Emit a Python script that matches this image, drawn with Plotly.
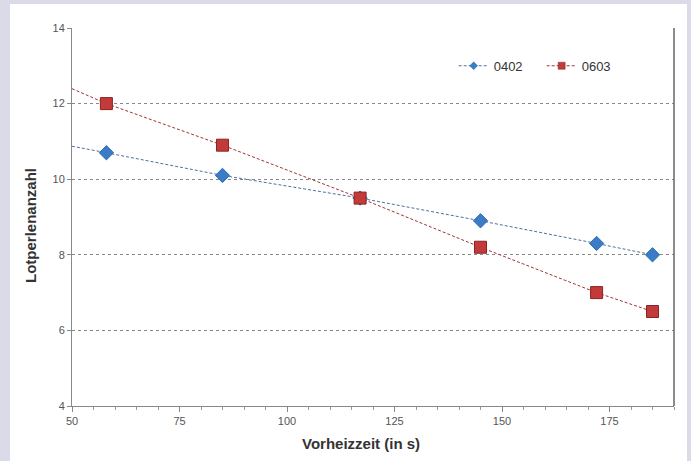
import numpy as np
import plotly.graph_objects as go

# Data
vorheizzeit = [58, 85, 117, 145, 172, 185]
serie_0402 = [10.7, 10.1, 9.5, 8.9, 8.3, 8.0]
serie_0603 = [12.0, 10.9, 9.5, 8.2, 7.0, 6.5]
series_names = ["0402", "0603"]
x_start = 50
x_ticks = [50, 75, 100, 125, 150, 175]
x_title = "Vorheizzeit (in s)"
y_title = "Lotperlenanzahl"

FONT = "Liberation Sans, Arial, sans-serif"
BLUE = "#3b7cc6"
RED = "#c23b3a"

# plot area in pixels
L, R, T, B = 72, 17, 28, 55
W, H = 691, 461
PW, PH = W - L - R, H - T - B

fig = go.Figure()

def add_series(ys, name, mcolor, lcolor, symbol, size, lsize, mline):
    # extend the dashed line back to the axis start using a linear fit
    k, d = np.polyfit(vorheizzeit, ys, 1)
    ext_x = [x_start, vorheizzeit[0]]
    ext_y = [k * x_start + d, ys[0]]
    dash = "3px,2px"
    fig.add_trace(go.Scatter(x=ext_x, y=ext_y, mode="lines", showlegend=False,
                             line=dict(color=lcolor, width=1, dash=dash),
                             hoverinfo="skip"))
    fig.add_trace(go.Scatter(x=vorheizzeit, y=ys, name=name, mode="lines+markers",
                             showlegend=False,
                             line=dict(color=lcolor, width=1, dash=dash),
                             marker=dict(color=mcolor, symbol=symbol, size=size,
                                         line=dict(color=mline, width=1))))
    # legend entry with small marker
    fig.add_trace(go.Scatter(x=[None], y=[None], name=name, mode="lines+markers",
                             line=dict(color=lcolor, width=1, dash=dash),
                             marker=dict(color=mcolor, symbol=symbol, size=lsize,
                                         line=dict(color=mline, width=0.5))))

add_series(serie_0402, series_names[0], BLUE, "#4f6f9c", "diamond", 11, 6, "#2f6bb0")
add_series(serie_0603, series_names[1], RED, "#9e3535", "square", 12, 7, "#8a2424")

fig.update_layout(
    width=W, height=H,
    margin=dict(l=L, r=R, t=T, b=B),
    paper_bgcolor="#dadae8",
    plot_bgcolor="white",
    font=dict(family=FONT, size=11, color="#444"),
    showlegend=True,
    legend=dict(orientation="h", x=0.634, xanchor="left", y=0.9, yanchor="middle",
                bgcolor="rgba(0,0,0,0)", font=dict(size=13, color="#333"),
                itemwidth=30, entrywidth=43, entrywidthmode="pixels"),
    shapes=[
        dict(type="rect", xref="paper", yref="paper",
             x0=(10 - L) / PW, x1=(687 - L) / PW, y0=-0.3, y1=(H - B - 4) / PH,
             fillcolor="white", line=dict(width=0), layer="below"),
        dict(type="line", xref="paper", yref="paper", x0=1, x1=1, y0=0, y1=1,
             line=dict(color="#666", width=1.5)),
    ],
    annotations=[
        dict(text="<b>" + x_title + "</b>", xref="paper", yref="paper",
             x=(361 - L) / PW, y=(H - B - 443) / PH, xanchor="center", yanchor="middle",
             showarrow=False, font=dict(size=15, color="#333")),
        dict(text="<b>" + y_title + "</b>", xref="paper", yref="paper",
             x=(30 - L) / PW, y=(H - B - 226) / PH, xanchor="center", yanchor="middle",
             textangle=-90, showarrow=False, font=dict(size=15, color="#333")),
    ],
)

fig.update_xaxes(range=[50, 190], tickvals=x_ticks,
                 showgrid=False, showline=True, linecolor="#888", linewidth=1,
                 ticks="outside", ticklen=5, tickcolor="#888",
                 minor=dict(dtick=5, tick0=50, ticks="outside", ticklen=3, tickcolor="#999", showgrid=False),
                 zeroline=False,
                 tickfont=dict(size=11, color="#555"))
fig.update_yaxes(range=[4, 14], dtick=2, tick0=4,
                 showgrid=True, gridcolor="#888", griddash="dot", gridwidth=1,
                 showline=True, linecolor="#888", linewidth=1,
                 ticks="outside", ticklen=4, tickcolor="#888",
                 zeroline=False,
                 tickfont=dict(size=11, color="#555"))

fig.write_html("out.html")
